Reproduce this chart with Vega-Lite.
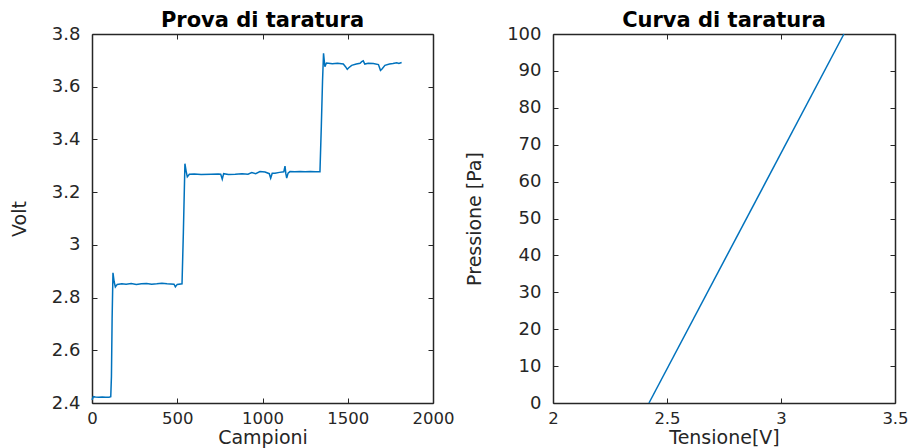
{
  "$schema": "https://vega.github.io/schema/vega-lite/v6.json",
  "background": "white",
  "padding": {"left": 10, "top": 10, "right": 10, "bottom": 2},
  "spacing": 11,
  "config": {
    "font": "DejaVu Sans",
    "view": {"stroke": null},
    "axis": {
      "grid": false,
      "domainColor": "#262626",
      "domainWidth": 1.5,
      "tickColor": "#262626",
      "tickWidth": 1,
      "tickSize": -5,
      "labelColor": "#262626",
      "titleColor": "#262626",
      "labelFont": "DejaVu Sans",
      "titleFont": "DejaVu Sans",
      "labelFontSize": 18,
      "titleFontWeight": "normal"
    },
    "axisX": {"labelPadding": 12, "labelFontSize": 16.5, "titleFontSize": 19, "titlePadding": 2},
    "axisY": {"labelPadding": 17, "titleFontSize": 19, "titlePadding": 22},
    "title": {"font": "DejaVu Sans", "fontSize": 21, "fontWeight": "bold", "color": "#000000", "offset": -6}
  },
  "datasets": {
    "campioni": [
      {"s": 0, "v": 2.412}, {"s": 8, "v": 2.424}, {"s": 20, "v": 2.423}, {"s": 40, "v": 2.422}, {"s": 60, "v": 2.423},
      {"s": 80, "v": 2.422}, {"s": 100, "v": 2.422}, {"s": 110, "v": 2.424}, {"s": 114, "v": 2.5}, {"s": 118, "v": 2.72},
      {"s": 123, "v": 2.894}, {"s": 130, "v": 2.86}, {"s": 137, "v": 2.84}, {"s": 148, "v": 2.85}, {"s": 175, "v": 2.852},
      {"s": 200, "v": 2.851}, {"s": 230, "v": 2.853}, {"s": 260, "v": 2.85}, {"s": 290, "v": 2.852}, {"s": 320, "v": 2.853},
      {"s": 350, "v": 2.851}, {"s": 380, "v": 2.852}, {"s": 410, "v": 2.854}, {"s": 440, "v": 2.852}, {"s": 481, "v": 2.851},
      {"s": 489, "v": 2.841}, {"s": 500, "v": 2.85}, {"s": 528, "v": 2.852}, {"s": 536, "v": 3.05}, {"s": 545, "v": 3.308},
      {"s": 552, "v": 3.28}, {"s": 559, "v": 3.258}, {"s": 571, "v": 3.268}, {"s": 600, "v": 3.269}, {"s": 640, "v": 3.267},
      {"s": 700, "v": 3.268}, {"s": 740, "v": 3.269}, {"s": 755, "v": 3.268}, {"s": 764, "v": 3.249}, {"s": 772, "v": 3.27},
      {"s": 800, "v": 3.267}, {"s": 840, "v": 3.268}, {"s": 880, "v": 3.27}, {"s": 915, "v": 3.268}, {"s": 937, "v": 3.274},
      {"s": 960, "v": 3.27}, {"s": 985, "v": 3.278}, {"s": 1015, "v": 3.276}, {"s": 1040, "v": 3.27}, {"s": 1048, "v": 3.253},
      {"s": 1057, "v": 3.272}, {"s": 1073, "v": 3.272}, {"s": 1100, "v": 3.275}, {"s": 1125, "v": 3.277}, {"s": 1132, "v": 3.299},
      {"s": 1137, "v": 3.27}, {"s": 1142, "v": 3.253}, {"s": 1150, "v": 3.272}, {"s": 1161, "v": 3.278}, {"s": 1190, "v": 3.277},
      {"s": 1220, "v": 3.278}, {"s": 1250, "v": 3.277}, {"s": 1280, "v": 3.278}, {"s": 1310, "v": 3.277}, {"s": 1337, "v": 3.277},
      {"s": 1345, "v": 3.45}, {"s": 1352, "v": 3.62}, {"s": 1358, "v": 3.727}, {"s": 1362, "v": 3.70}, {"s": 1366, "v": 3.676},
      {"s": 1375, "v": 3.69}, {"s": 1386, "v": 3.689}, {"s": 1410, "v": 3.687}, {"s": 1440, "v": 3.689}, {"s": 1474, "v": 3.686},
      {"s": 1488, "v": 3.675}, {"s": 1497, "v": 3.666}, {"s": 1506, "v": 3.672}, {"s": 1523, "v": 3.681}, {"s": 1550, "v": 3.686},
      {"s": 1572, "v": 3.689}, {"s": 1582, "v": 3.695}, {"s": 1591, "v": 3.698}, {"s": 1600, "v": 3.686}, {"s": 1620, "v": 3.689},
      {"s": 1650, "v": 3.688}, {"s": 1680, "v": 3.684}, {"s": 1692, "v": 3.662}, {"s": 1701, "v": 3.667}, {"s": 1718, "v": 3.681},
      {"s": 1745, "v": 3.686}, {"s": 1765, "v": 3.688}, {"s": 1787, "v": 3.691}, {"s": 1800, "v": 3.688}, {"s": 1816, "v": 3.692}
    ],
    "curva": [
      {"t": 2.421, "p": 0},
      {"t": 3.276, "p": 100}
    ]
  },
  "hconcat": [
    {
      "width": 341,
      "height": 369,
      "title": "Prova di taratura",
      "data": {"name": "campioni"},
      "layer": [
        {
          "mark": {"type": "line", "color": "#0072BD", "strokeWidth": 1.5},
          "encoding": {
            "x": {"field": "s", "type": "quantitative", "scale": {"domain": [0, 2000], "nice": false},
                  "axis": {"orient": "bottom", "title": "Campioni", "values": [0, 500, 1000, 1500, 2000], "labelExpr": "format(datum.value, '~g')", "labelFlush": false}},
            "y": {"field": "v", "type": "quantitative", "scale": {"domain": [2.4, 3.8], "nice": false, "zero": false},
                  "axis": {"orient": "left", "title": "Volt", "values": [2.4, 2.6, 2.8, 3, 3.2, 3.4, 3.6, 3.8], "labelExpr": "format(datum.value, '~g')", "labelFlush": false}}
          }
        },
        {
          "mark": {"type": "line", "opacity": 0},
          "encoding": {
            "x": {"field": "s", "type": "quantitative", "axis": {"orient": "top", "labels": false, "title": null, "values": [0, 500, 1000, 1500, 2000]}},
            "y": {"field": "v", "type": "quantitative", "axis": {"orient": "right", "labels": false, "title": null, "values": [2.4, 2.6, 2.8, 3, 3.2, 3.4, 3.6, 3.8]}}
          }
        }
      ],
      "resolve": {"axis": {"x": "independent", "y": "independent"}}
    },
    {
      "width": 342,
      "height": 369,
      "title": "Curva di taratura",
      "data": {"name": "curva"},
      "layer": [
        {
          "mark": {"type": "line", "color": "#0072BD", "strokeWidth": 1.5},
          "encoding": {
            "x": {"field": "t", "type": "quantitative", "scale": {"domain": [2, 3.5], "nice": false, "zero": false},
                  "axis": {"orient": "bottom", "title": "Tensione[V]", "values": [2, 2.5, 3, 3.5], "labelExpr": "format(datum.value, '~g')", "labelFlush": false}},
            "y": {"field": "p", "type": "quantitative", "scale": {"domain": [0, 100], "nice": false},
                  "axis": {"orient": "left", "title": "Pressione [Pa]", "values": [0, 10, 20, 30, 40, 50, 60, 70, 80, 90, 100], "labelFlush": false}}
          }
        },
        {
          "mark": {"type": "line", "opacity": 0},
          "encoding": {
            "x": {"field": "t", "type": "quantitative", "axis": {"orient": "top", "labels": false, "title": null, "values": [2, 2.5, 3, 3.5]}},
            "y": {"field": "p", "type": "quantitative", "axis": {"orient": "right", "labels": false, "title": null, "values": [0, 10, 20, 30, 40, 50, 60, 70, 80, 90, 100]}}
          }
        }
      ],
      "resolve": {"axis": {"x": "independent", "y": "independent"}}
    }
  ]
}
